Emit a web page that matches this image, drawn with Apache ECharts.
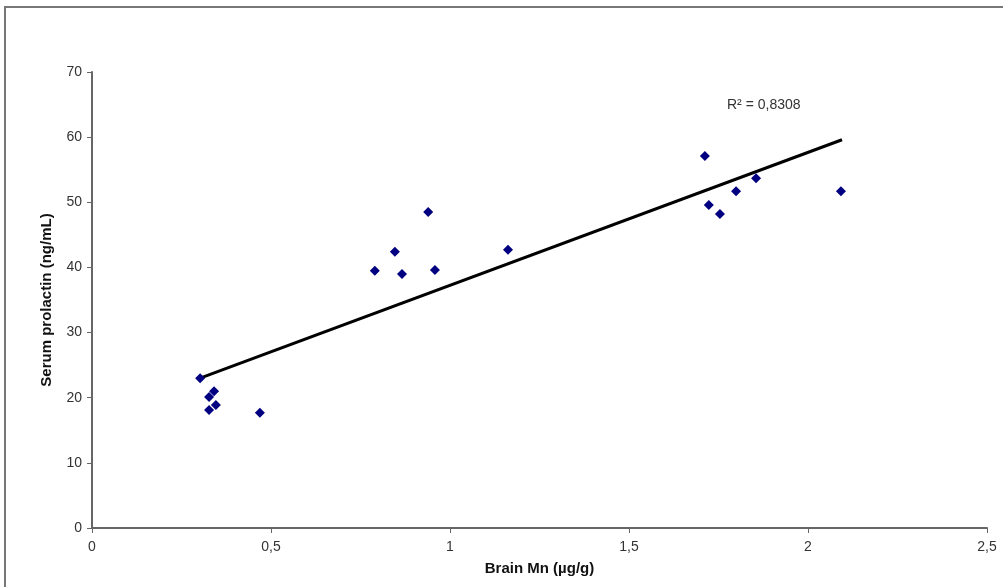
<!DOCTYPE html>
<html>
<head>
<meta charset="utf-8">
<script src="https://cdn.jsdelivr.net/npm/echarts@6/dist/echarts.min.js"></script>
<style>
  html, body { margin: 0; padding: 0; background: #fff; }
  #chart { width: 1003px; height: 587px; }
</style>
</head>
<body>
<div id="chart"></div>
<script>
  // Brain Mn (ug/g) vs serum prolactin (ng/mL)
  const brainMn = [0.302, 0.327, 0.341, 0.327, 0.346, 0.469, 0.79, 0.846, 0.866, 0.939, 0.958, 1.162, 1.712, 1.723, 1.754, 1.799, 1.855, 2.092]
  const prolactin = [23.0, 20.1, 21.0, 18.1, 18.9, 17.7, 39.5, 42.4, 39.0, 48.5, 39.6, 42.7, 57.1, 49.6, 48.2, 51.7, 53.7, 51.7]

  // trend line end points
  const trendX = [0.302, 2.095]
  const trendY = [23.0, 59.6]

  const rSquared = 'R² = 0,8308'

  const chart = echarts.init(document.getElementById('chart'))

  const axisText = { color: '#333', fontSize: 14, fontFamily: 'Liberation Sans, Arial, sans-serif' }
  const axisLine = { show: true, lineStyle: { color: '#666', width: 2 } }

  const option = {
    animation: false,
    graphic: [
      {
        type: 'rect',
        shape: { x: 5, y: 7, width: 1010, height: 600 },
        style: { fill: 'none', stroke: '#777', lineWidth: 2 }
      },
      {
        type: 'text',
        left: 727,
        top: 98,
        style: {
          text: rSquared,
          fill: '#333',
          fontSize: 14,
          fontFamily: 'Liberation Sans, Arial, sans-serif'
        }
      }
    ],
    grid: { left: 92, right: 16, top: 72, bottom: 59 },
    xAxis: {
      type: 'value',
      min: 0,
      max: 2.5,
      interval: 0.5,
      name: 'Brain Mn (µg/g)',
      nameLocation: 'middle',
      nameGap: 33,
      nameTextStyle: { color: '#111', fontSize: 15, fontWeight: 'bold', fontFamily: 'Liberation Sans, Arial, sans-serif' },
      axisLine: axisLine,
      axisTick: { show: true, length: 5, lineStyle: { color: '#666' } },
      axisLabel: Object.assign({ margin: 12, formatter: v => String(v).replace('.', ',') }, axisText),
      splitLine: { show: false }
    },
    yAxis: {
      type: 'value',
      min: 0,
      max: 70,
      interval: 10,
      name: 'Serum prolactin (ng/mL)',
      nameLocation: 'middle',
      nameGap: 38,
      nameTextStyle: { color: '#111', fontSize: 15, fontWeight: 'bold', fontFamily: 'Liberation Sans, Arial, sans-serif' },
      axisLine: axisLine,
      axisTick: { show: true, length: 5, lineStyle: { color: '#666' } },
      axisLabel: Object.assign({ margin: 10 }, axisText),
      splitLine: { show: false }
    },
    series: [
      {
        name: 'trend',
        type: 'line',
        data: trendX.map((x, i) => [x, trendY[i]]),
        symbol: 'none',
        lineStyle: { color: '#000', width: 3 },
        z: 2
      },
      {
        name: 'Serum prolactin',
        type: 'scatter',
        data: brainMn.map((x, i) => [x, prolactin[i]]),
        symbol: 'diamond',
        symbolSize: 10,
        itemStyle: { color: '#000080', opacity: 1 },
        z: 3
      }
    ]
  }
  chart.setOption(option)
</script>
</body>
</html>
